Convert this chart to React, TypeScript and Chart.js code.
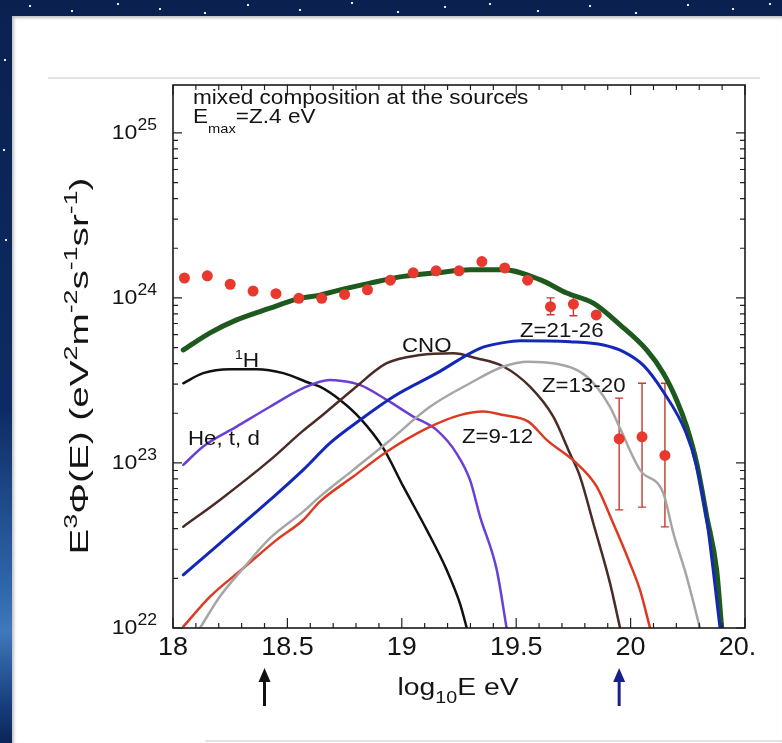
import React, { useEffect, useRef } from 'react';
import { Chart, registerables } from 'chart.js';

Chart.register(...registerables);

const FONT = '"Liberation Sans", Arial, Helvetica, sans-serif';

// ---- Auger data points (log10 E, E^3 Phi) ----
const dataE = [18.05, 18.15, 18.25, 18.35, 18.45, 18.55, 18.65, 18.75, 18.85, 18.95, 19.05, 19.15, 19.25, 19.35, 19.45, 19.55, 19.65, 19.75, 19.85, 19.95, 20.05, 20.15];
const dataFlux = [1.32e24, 1.36e24, 1.21e24, 1.10e24, 1.06e24, 9.95e23, 9.95e23, 1.05e24, 1.12e24, 1.28e24, 1.42e24, 1.46e24, 1.46e24, 1.66e24, 1.52e24, 1.28e24, 8.85e23, 9.16e23, 7.89e23, 1.40e23, 1.44e23, 1.11e23];
const errLow = [null, null, null, null, null, null, null, null, null, null, null, null, null, null, null, null, 7.9e23, 7.8e23, null, 5.2e22, 5.4e22, 4.1e22];
const errHigh = [null, null, null, null, null, null, null, null, null, null, null, null, null, null, null, null, 1.0e24, 1.02e24, null, 2.47e23, 3.04e23, 3.04e23];

// ---- model curves ----
const totalE = [18.045, 18.162, 18.278, 18.424, 18.545, 18.642, 18.744, 18.861, 19.007, 19.153, 19.298, 19.444, 19.604, 19.721, 19.837, 19.954, 20.07, 20.143, 20.201, 20.245, 20.289, 20.333, 20.376, 20.398];
const totalFlux = [4.84e23, 6.14e23, 7.36e23, 8.67e23, 9.86e23, 1.04e24, 1.13e24, 1.23e24, 1.35e24, 1.42e24, 1.48e24, 1.48e24, 1.29e24, 1.07e24, 9.29e23, 6.86e23, 4.84e23, 3.5e23, 2.41e23, 1.66e23, 9.95e22, 4.73e22, 2.25e22, 1.0e22];

const z2126E = [18.045, 18.205, 18.424, 18.569, 18.686, 18.817, 18.963, 19.153, 19.342, 19.444, 19.517, 19.735, 19.881, 19.968, 20.056, 20.143, 20.24, 20.289, 20.333, 20.391];
const z2126Flux = [2.1e22, 3.26e22, 5.97e22, 9.08e22, 1.32e23, 1.82e23, 2.52e23, 3.5e23, 4.95e23, 5.36e23, 5.51e23, 5.43e23, 5.19e23, 4.73e23, 3.9e23, 2.7e23, 1.55e23, 9.5e22, 4.51e22, 1.0e22];

const hE = [18.045, 18.132, 18.249, 18.366, 18.482, 18.599, 18.642, 18.73, 18.817, 18.919, 19.007, 19.109, 19.196, 19.254, 19.284];
const hFlux = [3.04e23, 3.5e23, 3.7e23, 3.7e23, 3.5e23, 3.04e23, 2.9e23, 2.41e23, 1.87e23, 1.23e23, 7.18e22, 3.93e22, 2.25e22, 1.41e22, 1.0e22];

const heE = [18.045, 18.132, 18.278, 18.424, 18.569, 18.686, 18.73, 18.817, 18.934, 19.05, 19.153, 19.24, 19.298, 19.342, 19.415, 19.458];
const heFlux = [9.73e22, 1.26e23, 1.66e23, 2.19e23, 2.84e23, 3.18e23, 3.15e23, 2.97e23, 2.41e23, 1.91e23, 1.58e23, 1.14e23, 7.89e22, 4.73e22, 2.25e22, 1.0e22];

const cnoE = [18.045, 18.205, 18.424, 18.569, 18.642, 18.788, 18.934, 19.08, 19.225, 19.327, 19.444, 19.56, 19.662, 19.735, 19.779, 19.837, 19.91, 19.954];
const cnoFlux = [4.11e22, 5.97e22, 1.04e23, 1.57e23, 1.89e23, 2.8e23, 4.02e23, 4.51e23, 4.62e23, 4.31e23, 3.84e23, 2.9e23, 1.91e23, 1.14e23, 8.27e22, 4.31e22, 1.87e22, 1.0e22];

const z1320E = [18.118, 18.205, 18.307, 18.424, 18.569, 18.642, 18.788, 18.934, 19.123, 19.298, 19.444, 19.553, 19.662, 19.808, 19.91, 19.954, 20.041, 20.143, 20.187, 20.245, 20.303];
const z1320Flux = [1.0e22, 1.55e22, 2.3e22, 3.5e22, 5.07e22, 6.25e22, 9.08e22, 1.32e23, 2.19e23, 3.04e23, 3.84e23, 4.11e23, 4.02e23, 3.34e23, 2.19e23, 1.62e23, 9.08e22, 6.55e22, 3.75e22, 2.05e22, 1.0e22];

const z912E = [18.045, 18.162, 18.307, 18.453, 18.569, 18.642, 18.788, 18.934, 19.109, 19.254, 19.356, 19.444, 19.553, 19.633, 19.764, 19.852, 19.924, 19.997, 20.041, 20.085];
const z912Flux = [1.02e22, 1.55e22, 2.3e22, 3.42e22, 4.51e22, 5.83e22, 8.27e22, 1.17e23, 1.62e23, 1.95e23, 2.05e23, 1.95e23, 1.78e23, 1.38e23, 9.95e22, 7.18e22, 4.31e22, 2.47e22, 1.7e22, 1.0e22];

// ---- axes ----
const xTickValues = [18, 18.5, 19, 19.5, 20, 20.5];
const xTickLabels = ['18', '18.5', '19', '19.5', '20', '20.'];
const yDecadeValues = [1e22, 1e23, 1e24, 1e25];
const yDecadeExponents = ['22', '23', '24', '25'];
const arrowEnergies = [18.4, 19.95];
const arrowColors = ['#111111', '#1a1f8f'];

type Seg = { t: string; size: number; dy?: number };
type RichOpts = { align?: 'left' | 'center' | 'right'; stretch?: number; fit?: number; rotate?: number; color?: string };

function drawRich(ctx: CanvasRenderingContext2D, segs: Seg[], x: number, y: number, o: RichOpts = {}) {
  ctx.save();
  ctx.translate(x, y);
  if (o.rotate) ctx.rotate(o.rotate);
  let w = 0;
  const widths = segs.map((s) => {
    ctx.font = `${s.size}px ${FONT}`;
    const m = ctx.measureText(s.t).width;
    w += m;
    return m;
  });
  const sx = o.fit ? o.fit / w : o.stretch ?? 1;
  ctx.scale(sx, 1);
  let cx = o.align === 'center' ? -w / 2 : o.align === 'right' ? -w : 0;
  ctx.fillStyle = o.color ?? '#141414';
  ctx.textAlign = 'left';
  ctx.textBaseline = 'alphabetic';
  segs.forEach((s, i) => {
    ctx.font = `${s.size}px ${FONT}`;
    ctx.fillText(s.t, cx, s.dy ?? 0);
    cx += widths[i];
  });
  ctx.restore();
  return w * sx;
}

const mk = (xs: number[], ys: number[]) => xs.map((x, i) => ({ x, y: ys[i] }));

const errorBarPlugin = {
  id: 'errorBars',
  beforeDatasetsDraw(chart: any) {
    const ctx: CanvasRenderingContext2D = chart.ctx;
    const xa = chart.scales.x;
    const ya = chart.scales.y;
    ctx.save();
    ctx.strokeStyle = '#c23a30';
    ctx.lineWidth = 1.4;
    dataE.forEach((e, i) => {
      const lo = errLow[i];
      const hi = errHigh[i];
      if (lo == null || hi == null) return;
      const px = xa.getPixelForValue(e);
      const y1 = ya.getPixelForValue(hi);
      const y2 = ya.getPixelForValue(lo);
      ctx.beginPath();
      ctx.moveTo(px, y1);
      ctx.lineTo(px, y2);
      ctx.moveTo(px - 4, y1);
      ctx.lineTo(px + 4, y1);
      ctx.moveTo(px - 4, y2);
      ctx.lineTo(px + 4, y2);
      ctx.stroke();
    });
    ctx.restore();
  },
};

const decorPlugin = {
  id: 'decor',
  afterDraw(chart: any) {
    const ctx: CanvasRenderingContext2D = chart.ctx;
    const xa = chart.scales.x;
    const ya = chart.scales.y;
    const { left, right, top, bottom } = chart.chartArea;
    ctx.save();

    // faint slide lines
    ctx.strokeStyle = '#e3e3e3';
    ctx.lineWidth = 2;
    ctx.beginPath();
    ctx.moveTo(48, 78);
    ctx.lineTo(760, 78);
    ctx.stroke();
    ctx.beginPath();
    ctx.moveTo(205, 741);
    ctx.lineTo(782, 741);
    ctx.stroke();

    // ticks (inward)
    ctx.strokeStyle = '#222';
    ctx.lineWidth = 1.2;
    ctx.beginPath();
    for (let i = 0; i <= 25; i++) {
      const px = xa.getPixelForValue(18 + i * 0.1);
      const L = i % 5 === 0 ? 10 : 5;
      ctx.moveTo(px, bottom);
      ctx.lineTo(px, bottom - L);
      ctx.moveTo(px, top);
      ctx.lineTo(px, top + L);
    }
    for (let e = 22; e <= 25; e++) {
      for (let m = 1; m <= 9; m++) {
        const v = m * Math.pow(10, e);
        if (v > ya.max) break;
        const py = ya.getPixelForValue(v);
        const L = m === 1 ? 9 : 5;
        ctx.moveTo(left, py);
        ctx.lineTo(left + L, py);
        ctx.moveTo(right, py);
        ctx.lineTo(right - L, py);
      }
    }
    ctx.stroke();

    // frame
    ctx.strokeStyle = '#1a1a1a';
    ctx.lineWidth = 1.6;
    ctx.strokeRect(left, top, right - left, bottom - top);

    // y tick labels
    yDecadeValues.forEach((v, i) => {
      const py = ya.getPixelForValue(v);
      drawRich(ctx, [{ t: '10', size: 21 }, { t: yDecadeExponents[i], size: 16, dy: -9 }], left - 16, py + 6, { align: 'right', stretch: 1.1 });
    });

    // x tick labels
    xTickValues.forEach((v, i) => {
      const px = xa.getPixelForValue(v);
      const lab = xTickLabels[i];
      if (lab.endsWith('.')) {
        ctx.font = `25px ${FONT}`;
        const full = ctx.measureText('20.5').width * 1.08;
        drawRich(ctx, [{ t: lab, size: 25 }], px - full / 2, 655, { align: 'left', stretch: 1.08 });
      } else {
        drawRich(ctx, [{ t: lab, size: 25 }], px, 655, { align: 'center', stretch: 1.08 });
      }
    });

    // axis titles
    drawRich(ctx, [{ t: 'log', size: 23 }, { t: '10', size: 16, dy: 8 }, { t: 'E eV', size: 23 }], 458, 695, { align: 'center', fit: 121 });
    drawRich(
      ctx,
      [
        { t: 'E', size: 26 },
        { t: '3', size: 18, dy: -11 },
        { t: 'Φ(E) (eV', size: 26 },
        { t: '2', size: 18, dy: -11 },
        { t: 'm', size: 26 },
        { t: '-2', size: 18, dy: -11 },
        { t: 's', size: 26 },
        { t: '-1', size: 18, dy: -11 },
        { t: 'sr', size: 26 },
        { t: '-1', size: 18, dy: -11 },
        { t: ')', size: 26 },
      ],
      88,
      366,
      { align: 'center', rotate: -Math.PI / 2, fit: 377 }
    );

    // annotation
    drawRich(ctx, [{ t: 'mixed composition at the sources', size: 20 }], 193, 104, { stretch: 1.13 });
    drawRich(ctx, [{ t: 'E', size: 20 }, { t: 'max', size: 13, dy: 10 }, { t: '=Z.4 eV', size: 20 }], 193, 123, { stretch: 1.13 });

    // curve labels
    drawRich(ctx, [{ t: '1', size: 13, dy: -8 }, { t: 'H', size: 21 }], 235, 367, { stretch: 1.08 });
    drawRich(ctx, [{ t: 'He, t, d', size: 21 }], 188, 445, { stretch: 1.06 });
    drawRich(ctx, [{ t: 'CNO', size: 21 }], 402, 352, { stretch: 1.06 });
    drawRich(ctx, [{ t: 'Z=21-26', size: 21 }], 520, 337, { stretch: 1.06 });
    drawRich(ctx, [{ t: 'Z=13-20', size: 21 }], 542, 392, { stretch: 1.06 });
    drawRich(ctx, [{ t: 'Z=9-12', size: 21 }], 462, 443, { stretch: 1.06 });

    // arrows
    arrowEnergies.forEach((e, i) => {
      const px = xa.getPixelForValue(e);
      ctx.strokeStyle = arrowColors[i];
      ctx.fillStyle = arrowColors[i];
      ctx.lineWidth = 3;
      ctx.beginPath();
      ctx.moveTo(px, 706);
      ctx.lineTo(px, 678);
      ctx.stroke();
      ctx.beginPath();
      ctx.moveTo(px, 668);
      ctx.lineTo(px - 6, 682);
      ctx.lineTo(px + 6, 682);
      ctx.closePath();
      ctx.fill();
    });

    ctx.restore();
  },
};

const stars: Array<[number, number]> = [
  [30, 6], [72, 11], [118, 4], [160, 9], [205, 13], [248, 5], [300, 10], [352, 3], [398, 12], [445, 7],
  [490, 4], [538, 11], [590, 6], [636, 13], [688, 5], [733, 9], [770, 4], [5, 60], [4, 150], [6, 240],
];

export default function App() {
  const ref = useRef<HTMLCanvasElement | null>(null);

  useEffect(() => {
    if (!ref.current) return;
    const line = (label: string, xs: number[], ys: number[], color: string, width: number, order: number) => ({
      label,
      data: mk(xs, ys),
      borderColor: color,
      backgroundColor: color,
      borderWidth: width,
      pointRadius: 0,
      fill: false,
      cubicInterpolationMode: 'monotone' as const,
      borderCapStyle: 'round' as const,
      borderJoinStyle: 'round' as const,
      order,
    });
    const chart = new Chart(ref.current, {
      type: 'line',
      data: {
        datasets: [
          {
            label: 'data',
            data: mk(dataE, dataFlux),
            showLine: false,
            pointRadius: 5.5,
            pointBackgroundColor: '#e8392e',
            pointBorderWidth: 0,
            borderColor: '#e8392e',
            order: 0,
          } as any,
          line('Z=21-26', z2126E, z2126Flux, '#1428b8', 3, 1),
          line('total', totalE, totalFlux, '#1e5a1e', 5, 2),
          line('Z=13-20', z1320E, z1320Flux, '#a6a6a6', 2.5, 3),
          line('Z=9-12', z912E, z912Flux, '#dc3a22', 2.5, 4),
          line('CNO', cnoE, cnoFlux, '#4a2c25', 2.5, 5),
          line('He, t, d', heE, heFlux, '#6a3fd6', 2.5, 6),
          line('1H', hE, hFlux, '#111111', 2.5, 7),
        ],
      },
      options: {
        animation: false,
        responsive: false,
        maintainAspectRatio: false,
        devicePixelRatio: 1,
        layout: { padding: { left: 173, right: 37, top: 85, bottom: 115 } },
        scales: {
          x: { type: 'linear', min: 18, max: 20.5, display: false },
          y: { type: 'logarithmic', min: 1e22, max: 1.95e25, display: false },
        },
        plugins: { legend: { display: false }, tooltip: { enabled: false } },
      },
      plugins: [errorBarPlugin, decorPlugin],
    });
    return () => chart.destroy();
  }, []);

  const starBg = stars.map(([x, y]) => `radial-gradient(circle at ${x}px ${y}px, rgba(255,255,255,0.9) 0px, rgba(255,255,255,0.9) 0.8px, rgba(255,255,255,0) 1.6px)`).join(', ');

  return (
    <div style={{ position: 'fixed', left: 0, top: 0, width: 782, height: 743, overflow: 'hidden', background: '#0b2556' }}>
      <div
        style={{
          position: 'absolute',
          left: 0,
          top: 0,
          width: 782,
          height: 743,
          background: `${starBg}, linear-gradient(to bottom, #0a2150 0%, #0d2b63 55%, #2d64a8 78%, #3f78bb 85%, #163e7c 95%, #0b2556 100%)`,
        }}
      />
      <div
        style={{
          position: 'absolute',
          left: 12,
          top: 16,
          right: 0,
          bottom: 0,
          background: '#ffffff',
          boxShadow: 'inset 2px 2px 3px rgba(0,0,0,0.25)',
        }}
      />
      <canvas ref={ref} width={782} height={743} style={{ position: 'absolute', left: 0, top: 0, width: 782, height: 743 }} />
    </div>
  );
}
